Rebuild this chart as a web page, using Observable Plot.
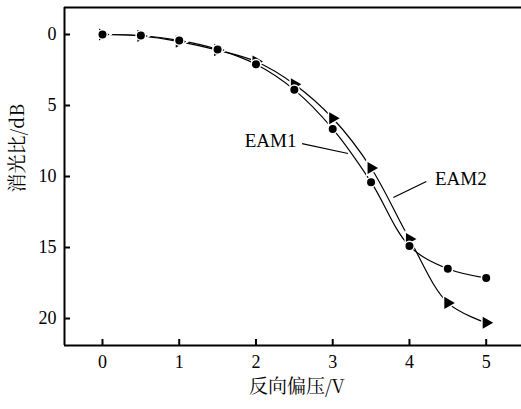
<!DOCTYPE html>
<html><head><meta charset="utf-8">
<script src="https://cdn.jsdelivr.net/npm/d3@7"></script>
<script src="https://cdn.jsdelivr.net/npm/@observablehq/plot@0.6"></script>
<style>
body{margin:0;background:#fff}
</style>
</head><body><div id="chart"></div>
<script>
const voltage = [0, 0.5, 1, 1.5, 2, 2.5, 3, 3.5, 4, 4.5, 5];
const eam1 = [0, 0.07, 0.42, 1.05, 2.1, 3.9, 6.65, 10.4, 14.9, 16.5, 17.15];
const eam2 = [0, 0.1, 0.5, 1.1, 1.9, 3.5, 5.9, 9.4, 14.4, 18.9, 20.3];
const xTicks = [0, 1, 2, 3, 4, 5];
const yTicks = [0, 5, 10, 15, 20];
const labels = [{name: "EAM1", x: 2.19, y: 7.5}, {name: "EAM2", x: 4.67, y: 10.14}];
const leaders = [{x1: 2.6, y1: 7.68, x2: 3.2, y2: 8.38}, {x1: 4.22, y1: 10.35, x2: 3.79, y2: 11.48}];

const d1 = voltage.map((v, i) => ({v, e: eam1[i]}));
const d2 = voltage.map((v, i) => ({v, e: eam2[i]}));
const xd = [-0.495, 5.46], yd = [-1.9, 21.9];
const serif = "Liberation Serif";
const cjk = "Noto Serif CJK SC, Liberation Serif";

const chart = Plot.plot({
  width: 521, height: 409,
  marginLeft: 64, marginTop: 7, marginRight: 0, marginBottom: 64,
  style: {fontSize: "18px", fontFamily: serif, color: "#000", background: "#fff"},
  x: {domain: xd},
  y: {domain: yd, reverse: true},
  marks: [
    Plot.line(d1, {x: "v", y: "e", curve: "catmull-rom", stroke: "#000", strokeWidth: 1.2}),
    Plot.line(d2, {x: "v", y: "e", curve: "catmull-rom", stroke: "#000", strokeWidth: 1.2}),
    Plot.dot(d2, {x: "v", y: "e", symbol: "triangle", rotate: 90, r: 4.5, fill: "#000", stroke: "#fff", strokeWidth: 3, paintOrder: "stroke"}),
    Plot.dot(d1, {x: "v", y: "e", symbol: "circle", r: 4, fill: "#000", stroke: "#fff", strokeWidth: 3, paintOrder: "stroke"}),
    Plot.link(leaders, {x1: "x1", y1: "y1", x2: "x2", y2: "y2", stroke: "#000", strokeWidth: 1.2}),
    Plot.text(labels, {x: "x", y: "y", text: "name", fontSize: 19, fontFamily: serif}),
    Plot.axisX(xTicks, {anchor: "bottom", tickSize: -6, tickPadding: 16, tickFormat: d => String(d), strokeWidth: 2, label: null, fontSize: 18, fontFamily: serif}),
    Plot.axisY(yTicks, {anchor: "left", tickSize: -6, tickPadding: 14, tickFormat: d => String(d), strokeWidth: 2, label: null, fontSize: 18, fontFamily: serif}),
    Plot.text(["反向偏压/V"], {frameAnchor: "bottom", lineAnchor: "middle", dx: 4, dy: 41, fontSize: 19, fontFamily: cjk}),
    Plot.text(["消光比/dB"], {frameAnchor: "left", lineAnchor: "middle", dx: -47, dy: 16, rotate: -90, fontSize: 19, fontFamily: cjk}),
    Plot.ruleX([xd[0]], {stroke: "#000", strokeWidth: 2}),
    Plot.ruleY(yd, {stroke: "#000", strokeWidth: 2})
  ]
});
document.getElementById("chart").append(chart);
</script></body></html>
